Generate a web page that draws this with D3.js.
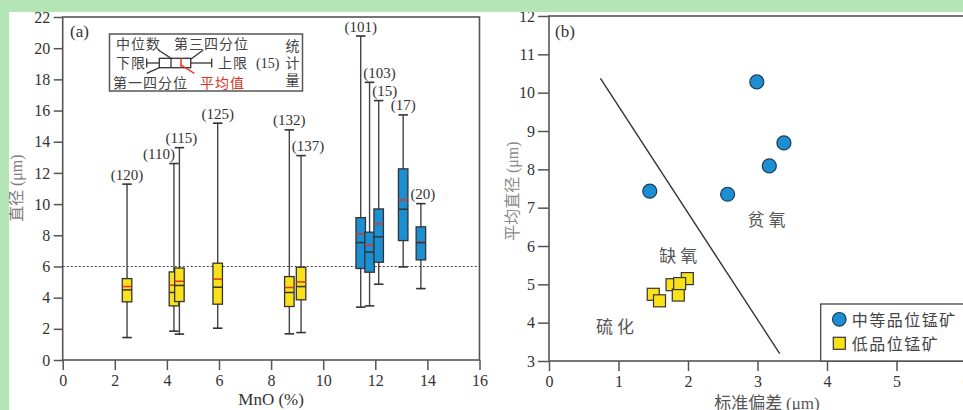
<!DOCTYPE html>
<html><head><meta charset="utf-8">
<script src="https://cdn.jsdelivr.net/npm/d3@7"></script>
<style>
body{margin:0;background:#fff;}
svg{display:block;}
.serif{font-family:"Liberation Serif","Times New Roman",Times,serif;}
.cjk{font-family:"Noto Sans CJK SC","Noto Sans",sans-serif;}
</style></head><body>
<svg id="c" width="963" height="410"></svg>
<script>
// ---------- Panel (a): box plots of grain diameter vs MnO ----------
const mnO         = [2.47, 4.27, 4.48, 5.95, 8.70, 9.15, 11.44, 11.78, 12.13, 13.07, 13.75];
const whiskerLow  = [1.44, 1.85, 1.66, 2.04, 1.68, 1.76, 3.39, 3.47, 4.86, 5.97, 4.58];
const q1          = [3.73, 3.47, 3.75, 3.58, 3.43, 3.86, 5.87, 5.63, 6.27, 7.66, 6.42];
const median      = [4.50, 4.33, 4.78, 4.67, 4.33, 4.71, 7.53, 6.92, 7.90, 9.67, 7.53];
const meanA       = [4.71, 4.80, 5.05, 5.19, 4.65, 5.01, 8.07, 7.37, 8.73, 10.27, 7.55];
const q3          = [5.22, 5.65, 5.90, 6.21, 5.35, 5.95, 9.13, 8.20, 9.69, 12.26, 8.54];
const whiskerHigh = [11.28, 12.60, 13.62, 15.19, 14.76, 13.11, 20.78, 17.81, 16.64, 15.72, 10.03];
const counts      = [120, 110, 115, 125, 132, 137, 101, 103, 15, 17, 20];
const grade       = ["low","low","low","low","low","low","mid","mid","mid","mid","mid"];
const thresholdA  = 6;
const xTicksA = [0, 2, 4, 6, 8, 10, 12, 14, 16];
const yTicksA = [0, 2, 4, 6, 8, 10, 12, 14, 16, 18, 20, 22];
// layout only: horizontal nudges (px) of the count labels
const countLabelDx = [0, -15, 2, 0, 0, 7, 0, 10, 6, 0, 2];

// ---------- Panel (b): mean diameter vs standard deviation ----------
const sdMid   = [1.45, 2.57, 2.99, 3.17, 3.38];
const meanMid = [7.43, 7.35, 10.28, 8.09, 8.69];
const sdLow   = [1.50, 1.59, 1.99, 1.77, 1.86, 1.88];
const meanLow = [4.74, 4.57, 5.15, 4.99, 4.72, 5.02];
const boundarySd   = [0.74, 3.32];
const boundaryMean = [10.37, 3.19];
const xTicksB = [0, 1, 2, 3, 4, 5, 6];
const yTicksB = [3, 4, 5, 6, 7, 8, 9, 10, 11, 12];
const regionNames = ["硫化", "缺氧", "贫氧"];
const regionSd    = [0.98, 1.89, 3.16];
const regionMean  = [3.72, 5.58, 6.52];
const legendNamesB = ["中等品位锰矿", "低品位锰矿"];

// ---------- styles ----------
const YELLOW = "#f9e21a", BLUE = "#1c8fd3", RED = "#e0341f";
const AXIS = "#555";

const svg = d3.select("#c");
svg.append("rect").attr("width", 963).attr("height", 410).attr("fill", "#fff");

// ================= Panel (a) =================
const xA = d3.scaleLinear([0, 16], [62.7, 479.5]);
const yA = d3.scaleLinear([0, 22], [360, 17]);
const gA = svg.append("g");

const axAy = gA.append("g").attr("transform", `translate(${xA(0)},0)`)
  .call(d3.axisLeft(yA).tickValues(yTicksA).tickSize(9).tickPadding(3.5).tickFormat(d3.format("d")));
const axAx = gA.append("g").attr("transform", `translate(0,${yA(0)})`)
  .call(d3.axisBottom(xA).tickValues(xTicksA).tickSize(10).tickPadding(5).tickFormat(d3.format("d")));
[axAy, axAx].forEach(a => {
  a.attr("font-family", null).attr("font-size", null);
  a.select(".domain").remove();
  a.selectAll("line").attr("stroke", AXIS).attr("stroke-width", 1.5);
  a.selectAll("text").attr("class", "serif").style("font-size", "16px").attr("fill", "#333");
});
gA.append("rect").attr("x", xA(0)).attr("y", yA(22)).attr("width", xA(16) - xA(0)).attr("height", yA(0) - yA(22))
  .attr("fill", "none").attr("stroke", AXIS).attr("stroke-width", 1.6);

// threshold
gA.append("line").attr("x1", xA(0)).attr("x2", xA(16)).attr("y1", yA(thresholdA)).attr("y2", yA(thresholdA))
  .attr("stroke", "#444").attr("stroke-width", 1.1).attr("stroke-dasharray", "2,2");

const bw = 9.5;
const boxes = mnO.map((x, i) => ({x, lo: whiskerLow[i], q1: q1[i], med: median[i], mean: meanA[i], q3: q3[i], hi: whiskerHigh[i], n: counts[i], g: grade[i], dx: countLabelDx[i]}));
const bg = gA.selectAll("g.box").data(boxes).join("g").attr("class", "box");
bg.append("line").attr("x1", d => xA(d.x)).attr("x2", d => xA(d.x)).attr("y1", d => yA(d.lo)).attr("y2", d => yA(d.hi))
  .attr("stroke", "#444").attr("stroke-width", 1.4);
bg.append("line").attr("x1", d => xA(d.x) - bw / 2).attr("x2", d => xA(d.x) + bw / 2).attr("y1", d => yA(d.lo)).attr("y2", d => yA(d.lo))
  .attr("stroke", "#333").attr("stroke-width", 1.6);
bg.append("line").attr("x1", d => xA(d.x) - bw / 2).attr("x2", d => xA(d.x) + bw / 2).attr("y1", d => yA(d.hi)).attr("y2", d => yA(d.hi))
  .attr("stroke", "#333").attr("stroke-width", 1.6);
bg.append("rect").attr("x", d => xA(d.x) - bw / 2).attr("width", bw).attr("y", d => yA(d.q3)).attr("height", d => yA(d.q1) - yA(d.q3))
  .attr("fill", d => d.g === "low" ? YELLOW : BLUE).attr("stroke", "#333").attr("stroke-width", 1.3);
bg.append("line").attr("x1", d => xA(d.x) - bw / 2).attr("x2", d => xA(d.x) + bw / 2).attr("y1", d => yA(d.mean)).attr("y2", d => yA(d.mean))
  .attr("stroke", RED).attr("stroke-width", 1.5);
bg.append("line").attr("x1", d => xA(d.x) - bw / 2).attr("x2", d => xA(d.x) + bw / 2).attr("y1", d => yA(d.med)).attr("y2", d => yA(d.med))
  .attr("stroke", "#333").attr("stroke-width", 1.5);
bg.append("text").attr("class", "serif").attr("x", d => xA(d.x) + d.dx).attr("y", d => yA(d.hi) - 4.5).attr("text-anchor", "middle")
  .style("font-size", "15px").attr("fill", "#333").text(d => `(${d.n})`);

gA.append("text").attr("class", "serif").attr("x", 70).attr("y", 37).style("font-size", "17px").attr("fill", "#333").text("(a)");

// axis titles (a)
gA.append("text").attr("class", "serif").attr("x", xA(8)).attr("y", 405).attr("text-anchor", "middle")
  .style("font-size", "17px").attr("fill", "#333").text("MnO (%)");
const tA = gA.append("text").attr("transform", "translate(22,188) rotate(-90)").attr("text-anchor", "middle").attr("fill", "#7d7d7d").style("font-size", "16px");
tA.append("tspan").attr("class", "cjk").text("直径 ");
tA.append("tspan").attr("class", "serif").text("(μm)");

// legend (a)
const lg = gA.append("g");
lg.append("rect").attr("x", 109.5).attr("y", 34).attr("width", 193).attr("height", 57).attr("fill", "#fff").attr("stroke", "#555").attr("stroke-width", 1.5);
const lt = (x, y, s, col, anchor) => lg.append("text").attr("class", "cjk").attr("x", x).attr("y", y).style("font-size", "14px")
  .attr("letter-spacing", 1).attr("fill", col || "#444").attr("text-anchor", anchor || "start").text(s);
lt(116, 49, "中位数"); lt(174, 49, "第三四分位"); lt(116, 68, "下限"); lt(218, 68, "上限");
lt(113, 87.5, "第一四分位"); lt(200, 87.5, "平均值", "#d8361f");
// vertical "统计量"
lg.append("text").attr("class", "cjk").attr("x", 292.5).attr("y", 38.5).style("font-size", "14px")
  .style("writing-mode", "vertical-rl").attr("letter-spacing", 3).attr("fill", "#444").text("统计量");
lg.append("text").attr("class", "serif").attr("x", 256).attr("y", 68).style("font-size", "14px").attr("fill", "#333").text("(15)");
const ll = (x1, y1, x2, y2, c, w) => lg.append("line").attr("x1", x1).attr("y1", y1).attr("x2", x2).attr("y2", y2).attr("stroke", c || "#333").attr("stroke-width", w || 1.3);
ll(146.7, 63, 159.3, 63); ll(146.7, 58.5, 146.7, 67.5); ll(190.7, 63, 211.7, 63); ll(211.7, 58.5, 211.7, 67.5);
lg.append("rect").attr("x", 159.3).attr("y", 58.3).attr("width", 31.4).attr("height", 9.4).attr("fill", "#fff").attr("stroke", "#333").attr("stroke-width", 1.3);
ll(171, 58.3, 171, 67.7); ll(181, 58.3, 181, 67.7, RED, 1.5);
ll(158.3, 50, 171, 58.3); ll(203.3, 50, 190.7, 59.3); ll(146.7, 73.3, 159.3, 67.7); ll(181, 65, 194.3, 73.3, RED, 1.4);

// ================= Panel (b) =================
const xB = d3.scaleLinear([0, 6], [549, 966]);
const yB = d3.scaleLinear([3, 12], [361, 16]);
const gB = svg.append("g");
const axBy = gB.append("g").attr("transform", `translate(${xB(0)},0)`)
  .call(d3.axisLeft(yB).tickValues(yTicksB).tickSize(11).tickPadding(3).tickFormat(d3.format("d")));
const axBx = gB.append("g").attr("transform", `translate(0,${yB(3)})`)
  .call(d3.axisBottom(xB).tickValues(xTicksB).tickSize(10).tickPadding(4.6).tickFormat(d3.format("d")));
[axBy, axBx].forEach(a => {
  a.attr("font-family", null).attr("font-size", null);
  a.select(".domain").remove();
  a.selectAll("line").attr("stroke", AXIS).attr("stroke-width", 1.5);
  a.selectAll("text").attr("class", "serif").style("font-size", "16px").attr("fill", "#333");
});
gB.append("rect").attr("x", xB(0)).attr("y", yB(12)).attr("width", xB(6) - xB(0)).attr("height", yB(3) - yB(12))
  .attr("fill", "none").attr("stroke", AXIS).attr("stroke-width", 1.6);

// boundary line
gB.append("line").attr("x1", xB(boundarySd[0])).attr("y1", yB(boundaryMean[0])).attr("x2", xB(boundarySd[1])).attr("y2", yB(boundaryMean[1]))
  .attr("stroke", "#333").attr("stroke-width", 1.4);

// region labels
regionNames.forEach((s, i) => {
  gB.append("text").attr("class", "cjk").attr("x", xB(regionSd[i])).attr("y", yB(regionMean[i])).attr("text-anchor", "middle")
    .style("font-size", "17px").attr("letter-spacing", 4).attr("fill", "#555").text(s);
});

// points
gB.selectAll("circle.mid").data(sdMid.map((s, i) => [s, meanMid[i]])).join("circle").attr("class", "mid")
  .attr("cx", d => xB(d[0])).attr("cy", d => yB(d[1])).attr("r", 7)
  .attr("fill", BLUE).attr("stroke", "#1d3b57").attr("stroke-width", 1.2);
const sq = 12;
gB.selectAll("rect.low").data(sdLow.map((s, i) => [s, meanLow[i]])).join("rect").attr("class", "low")
  .attr("x", d => xB(d[0]) - sq / 2).attr("y", d => yB(d[1]) - sq / 2).attr("width", sq).attr("height", sq)
  .attr("fill", YELLOW).attr("stroke", "#333").attr("stroke-width", 1.2);

gB.append("text").attr("class", "serif").attr("x", 555).attr("y", 37).style("font-size", "17px").attr("fill", "#333").text("(b)");

// axis titles (b)
const tBx = gB.append("text").attr("x", 767).attr("y", 409).attr("text-anchor", "middle").attr("fill", "#555").style("font-size", "17px");
tBx.append("tspan").attr("class", "cjk").text("标准偏差 ");
tBx.append("tspan").attr("class", "serif").text("(μm)");
const tBy = gB.append("text").attr("transform", "translate(518,191) rotate(-90)").attr("text-anchor", "middle").attr("fill", "#8a8a8a").style("font-size", "16px");
tBy.append("tspan").attr("class", "cjk").text("平均直径 ");
tBy.append("tspan").attr("class", "serif").text("(μm)");

// legend (b)
const lb = gB.append("g");
lb.append("rect").attr("x", 820.7).attr("y", 304).attr("width", 170).attr("height", 57).attr("fill", "#fff").attr("stroke", "#444").attr("stroke-width", 1.3);
lb.append("circle").attr("cx", 839.3).attr("cy", 319.3).attr("r", 6.8).attr("fill", BLUE).attr("stroke", "#1d3b57").attr("stroke-width", 1.2);
lb.append("rect").attr("x", 839.3 - 6).attr("y", 343.3 - 6).attr("width", 12).attr("height", 12).attr("fill", YELLOW).attr("stroke", "#333").attr("stroke-width", 1.2);
legendNamesB.forEach((s, i) => {
  lb.append("text").attr("class", "cjk").attr("x", 851.7).attr("y", i === 0 ? 325.5 : 350).style("font-size", "16px")
    .attr("letter-spacing", 1.5).attr("fill", "#444").text(s);
});

// page frame (light green border of the screenshot)
svg.append("rect").attr("x", 0).attr("y", 0).attr("width", 963).attr("height", 12).attr("fill", "#b4e5b6");
svg.append("rect").attr("x", 0).attr("y", 0).attr("width", 9).attr("height", 410).attr("fill", "#b4e5b6");
</script>
</body></html>
